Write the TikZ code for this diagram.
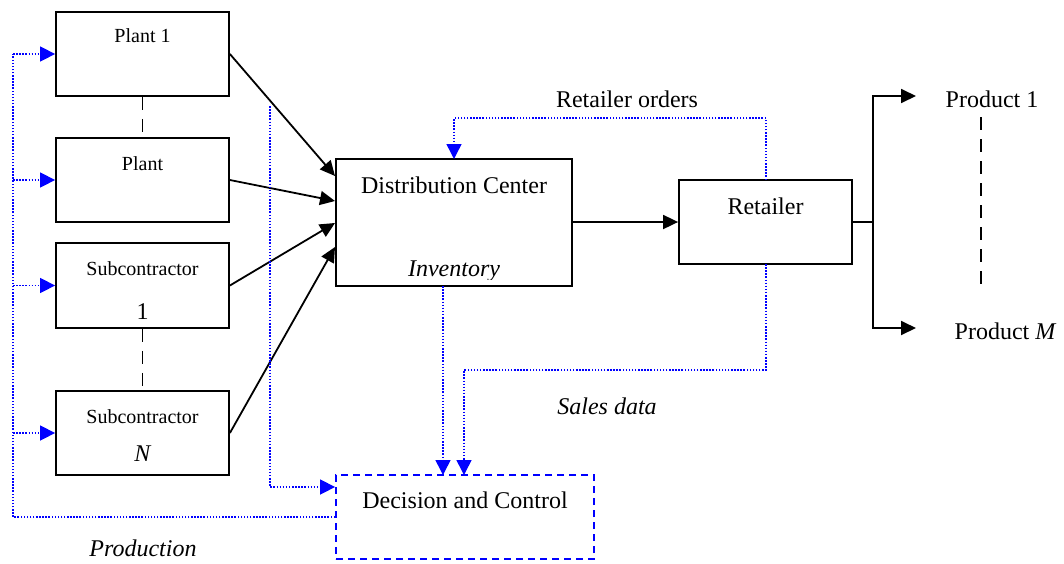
\documentclass[tikz,border=0pt]{standalone}
\usepackage{fontspec}
\setmainfont{Liberation Serif}
\usetikzlibrary{arrows.meta}
\begin{document}
\begin{tikzpicture}[x=1pt,y=-1pt,
  blk/.style={draw=black,line width=1.8pt,inner sep=0pt},
  lbl/.style={inner sep=0pt,anchor=base},
  flow/.style={line width=1.8pt,-{Triangle[length=15pt,width=14pt]}},
  info/.style={blue,line width=1.5pt,dash pattern=on 1.5pt off 1.6pt},
  infoarr/.style={info,-{Triangle[length=15pt,width=15pt,fill=blue]}},
  gap/.style={line width=1.8pt,dash pattern=on 13pt off 9pt},
  big/.style={font=\fontsize{24}{28}\selectfont},
  small/.style={font=\fontsize{20}{24}\selectfont}]
\useasboundingbox (0,0) rectangle (1064,563);

% supply side boxes
\node[blk,minimum width=173pt,minimum height=84pt] (p1) at (142.5,54) {};
\node[blk,minimum width=173pt,minimum height=84pt] (p) at (142.5,180) {};
\node[blk,minimum width=173pt,minimum height=85pt] (s1) at (142.5,285.5) {};
\node[blk,minimum width=173pt,minimum height=84pt] (sn) at (142.5,433) {};
\node[lbl,small] (tp1) at (142.5,42) {Plant 1};
\node[lbl,small] (tp) at (142.5,170) {Plant};
\node[lbl,small] (ts1) at (142.5,275) {Subcontractor};
\node[lbl,big] (ts1b) at (142.5,319) {1};
\node[lbl,small] (tsn) at (142.5,423) {Subcontractor};
\node[lbl,big] (tsnb) at (142.5,461) {\itshape N};

% distribution center, retailer, decision
\node[blk,minimum width=236pt,minimum height=127pt] (dc) at (454,222.5) {};
\node[lbl,big] (tdc) at (454,193) {Distribution Center};
\begin{scope}
  \clip (340,240) rectangle (568,279);
  \node[lbl,big] (tinv) at (454,276) {\itshape Inventory};
\end{scope}
\node[blk,minimum width=173pt,minimum height=84pt] (ret) at (765.5,222) {};
\node[lbl,big] (tret) at (765.5,214) {Retailer};
\node[draw=blue,line width=1.8pt,dash pattern=on 7pt off 5pt,minimum width=258pt,minimum height=84pt,inner sep=0pt] (dec) at (465,517) {};
\node[lbl,big] (tdec) at (465,508) {Decision and Control};

% products
\node[lbl,big] (pr1) at (992,107) {Product 1};
\node[lbl,big] (prm) at (1005,339) {Product \itshape M};
\coordinate (fork) at (873,222);
\coordinate (o1) at (916,96);
\coordinate (om) at (916,328);

% material flow
\draw[flow] (p1.east) -- (335,176);
\draw[flow] (p.east) -- (335,201);
\draw[flow] (s1.east) -- (335,223);
\draw[flow] (sn.east) -- (335,247);
\draw[flow] (dc.east |- ret.west) -- (ret.west);
\draw[line width=1.8pt] (ret.east) -- (fork);
\draw[flow] (fork) |- (o1);
\draw[flow] (fork) |- (om);
\draw[gap] (981,117) -- (981,286);
\draw[gap] (p1.south) -- (142.5,134);
\draw[gap] (s1.south) -- (sn.north);

% information flow
\coordinate (lft) at (13,517);
\draw[info] (dec.west |- lft) -- (lft) -- (13,54);
\foreach \b in {p1,p,s1,sn}
  \draw[infoarr] (13,0 |- \b.west) -- (\b.west);
\draw[infoarr] (270,106) -- (270,487) -- (dec.west |- 0,487);
\draw[infoarr] (766,180) -- (766,118) -- (454,118) -- (454,159);
\draw[infoarr] (443,286) -- (443,475);
\draw[infoarr] (766,264) -- (766,370) -- (464,370) -- (464,475);

% labels on the information flows
\node[lbl,big] (tord) at (627,107) {Retailer orders};
\node[lbl,font=\fontsize{24}{28}\selectfont\itshape] (tsal) at (607,414) {Sales data};
\node[lbl,font=\fontsize{24}{28}\selectfont\itshape] (tprod) at (143,556) {Production};
\end{tikzpicture}
\end{document}
